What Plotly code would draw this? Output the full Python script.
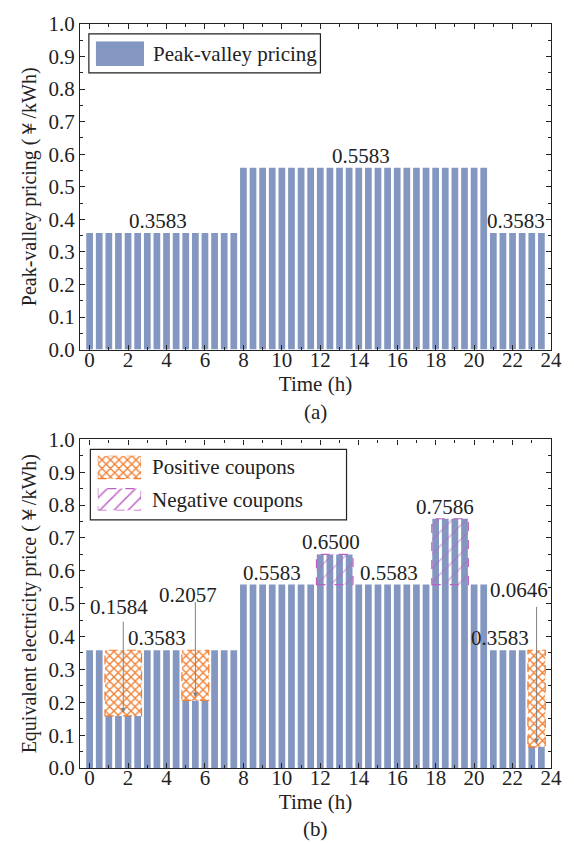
import plotly.graph_objects as go

# ---------------- data ----------------
hours = [0.0, 0.5, 1.0, 1.5, 2.0, 2.5, 3.0, 3.5, 4.0, 4.5, 5.0, 5.5,
         6.0, 6.5, 7.0, 7.5, 8.0, 8.5, 9.0, 9.5, 10.0, 10.5, 11.0, 11.5,
         12.0, 12.5, 13.0, 13.5, 14.0, 14.5, 15.0, 15.5, 16.0, 16.5, 17.0, 17.5,
         18.0, 18.5, 19.0, 19.5, 20.0, 20.5, 21.0, 21.5, 22.0, 22.5, 23.0, 23.5]

pv_price = [0.3583, 0.3583, 0.3583, 0.3583, 0.3583, 0.3583, 0.3583, 0.3583,
            0.3583, 0.3583, 0.3583, 0.3583, 0.3583, 0.3583, 0.3583, 0.3583,
            0.5583, 0.5583, 0.5583, 0.5583, 0.5583, 0.5583, 0.5583, 0.5583,
            0.5583, 0.5583, 0.5583, 0.5583, 0.5583, 0.5583, 0.5583, 0.5583,
            0.5583, 0.5583, 0.5583, 0.5583, 0.5583, 0.5583, 0.5583, 0.5583,
            0.5583, 0.5583, 0.3583, 0.3583, 0.3583, 0.3583, 0.3583, 0.3583]

eq_price = [0.3583, 0.3583, 0.1584, 0.1584, 0.1584, 0.1584, 0.3583, 0.3583,
            0.3583, 0.3583, 0.2057, 0.2057, 0.2057, 0.3583, 0.3583, 0.3583,
            0.5583, 0.5583, 0.5583, 0.5583, 0.5583, 0.5583, 0.5583, 0.5583,
            0.6500, 0.6500, 0.6500, 0.6500, 0.5583, 0.5583, 0.5583, 0.5583,
            0.5583, 0.5583, 0.5583, 0.5583, 0.7586, 0.7586, 0.7586, 0.7586,
            0.5583, 0.5583, 0.3583, 0.3583, 0.3583, 0.3583, 0.0646, 0.0646]

# coupon periods (first and last half-hour slot centres)
pos_start = [1.0, 5.0, 23.0]
pos_end = [2.5, 6.0, 23.5]
pos_low = [0.1584, 0.2057, 0.0646]
pos_high = [0.3583, 0.3583, 0.3583]

neg_start = [12.0, 18.0]
neg_end = [13.5, 19.5]
neg_low = [0.5583, 0.5583]
neg_high = [0.6500, 0.7586]

top_label_text = ["0.3583", "0.5583", "0.3583"]
top_label_val = [0.3583, 0.5583, 0.3583]
bot_label_text = ["0.3583", "0.5583", "0.6500", "0.5583", "0.7586", "0.3583"]
bot_label_val = [0.3583, 0.5583, 0.6500, 0.5583, 0.7586, 0.3583]
callout_text = ["0.1584", "0.2057", "0.0646"]

x_ticks = [0, 2, 4, 6, 8, 10, 12, 14, 16, 18, 20, 22, 24]
y_ticks = [0.0, 0.1, 0.2, 0.3, 0.4, 0.5, 0.6, 0.7, 0.8, 0.9, 1.0]

# ---------------- styling / positions ----------------
FONT = "Liberation Serif"
FS = 21
BLUE = "#8497C0"
ORANGE = "#F07F32"
PURPLE = "#BC5FC4"
AXC = "#222222"
BAR_W = 0.35
HALF = 0.2

top_label_x = [3.55, 14.1, 22.18]
bot_label_x = [3.53, 9.49, 12.57, 15.56, 18.5, 21.37]
callout_x = [1.55, 5.14, 22.36]
callout_y = [0.489, 0.526, 0.541]
arrow_from_y = [0.45, 0.51, 0.495]

# plot area in pixels (for legend placement)
PL, PR, PT, PB = 80, 558, 14, 768
def px(x):
    return (x - PL) / (PR - PL)
def py(y):
    return (PB - y) / (PB - PT)

ORANGE_PAT = dict(shape="x", fgcolor=ORANGE, bgcolor="white", size=6, solidity=0.4,
                  fillmode="replace")
PURPLE_PAT = dict(shape="/", fgcolor=PURPLE, bgcolor="rgba(0,0,0,0)", size=10,
                  solidity=0.15, fillmode="overlay")

fig = go.Figure()

fig.add_trace(go.Bar(x=hours, y=pv_price, width=[BAR_W] * len(hours),
                     marker=dict(color=BLUE, line=dict(width=0)),
                     xaxis="x", yaxis="y", showlegend=False))
fig.add_trace(go.Bar(x=hours, y=eq_price, width=[BAR_W] * len(hours),
                     marker=dict(color=BLUE, line=dict(width=0)),
                     xaxis="x2", yaxis="y2", showlegend=False))

shapes = []
# positive coupons overlay
pos_x0 = [s - HALF for s in pos_start]
pos_x1 = [e + HALF for e in pos_end]
fig.add_trace(go.Bar(
    x=[(a + b) / 2 for a, b in zip(pos_x0, pos_x1)],
    width=[b - a for a, b in zip(pos_x0, pos_x1)],
    base=pos_low, y=[h - l for h, l in zip(pos_high, pos_low)],
    marker=dict(color="white", line=dict(width=0), pattern=ORANGE_PAT),
    xaxis="x2", yaxis="y2", showlegend=False))
for a, b, l, h in zip(pos_x0, pos_x1, pos_low, pos_high):
    shapes.append(dict(type="rect", xref="x2", yref="y2", x0=a, x1=b, y0=l, y1=h,
                       line=dict(color=ORANGE, width=1.2, dash="dash"),
                       fillcolor="rgba(0,0,0,0)", layer="above"))

neg_x0 = [s - HALF for s in neg_start]
neg_x1 = [e + HALF for e in neg_end]
fig.add_trace(go.Bar(
    x=[(a + b) / 2 for a, b in zip(neg_x0, neg_x1)],
    width=[b - a for a, b in zip(neg_x0, neg_x1)],
    base=neg_low, y=[h - l for h, l in zip(neg_high, neg_low)],
    marker=dict(color="rgba(0,0,0,0)", line=dict(width=0), pattern=PURPLE_PAT),
    xaxis="x2", yaxis="y2", showlegend=False))
for a, b, l, h in zip(neg_x0, neg_x1, neg_low, neg_high):
    shapes.append(dict(type="rect", xref="x2", yref="y2", x0=a, x1=b, y0=l, y1=h,
                       line=dict(color=PURPLE, width=1.2, dash="dash"),
                       fillcolor="rgba(0,0,0,0)", layer="above"))

# ---- legend patches on auxiliary axes ----
fig.add_trace(go.Bar(x=[0], y=[1], width=[1], marker=dict(color=BLUE, line=dict(width=0)),
                     xaxis="x3", yaxis="y3", showlegend=False, hoverinfo="skip"))
fig.add_trace(go.Bar(x=[0], base=[0.58], y=[0.42], width=[1],
                     marker=dict(color="white", line=dict(width=0), pattern=ORANGE_PAT),
                     xaxis="x4", yaxis="y4", showlegend=False, hoverinfo="skip"))
fig.add_trace(go.Bar(x=[0], base=[0.0], y=[0.40], width=[1],
                     marker=dict(color="white", line=dict(width=0),
                                 pattern=dict(PURPLE_PAT, bgcolor="white", fillmode="replace")),
                     xaxis="x4", yaxis="y4", showlegend=False, hoverinfo="skip"))
shapes.append(dict(type="rect", xref="x4", yref="y4", x0=-0.5, x1=0.5, y0=0.58, y1=1.0,
                   line=dict(color=ORANGE, width=1.2, dash="dash"), layer="above"))
shapes.append(dict(type="rect", xref="x4", yref="y4", x0=-0.5, x1=0.5, y0=0.0, y1=0.40,
                   line=dict(color=PURPLE, width=1.2, dash="dash"), layer="above"))

# legend boxes
shapes.append(dict(type="rect", xref="paper", yref="paper",
                   x0=px(89), x1=px(324), y0=py(63.5), y1=py(24),
                   line=dict(color=AXC, width=1.2), layer="above"))
shapes.append(dict(type="rect", xref="paper", yref="paper",
                   x0=px(90.5), x1=px(350.5), y0=py(516.5), y1=py(445),
                   line=dict(color=AXC, width=1.2), layer="above"))

annotations = []
tf = dict(family=FONT, size=FS, color=AXC)
ttf = dict(family=FONT, size=20, color=AXC)
for t, x, v in zip(top_label_text, top_label_x, top_label_val):
    annotations.append(dict(x=x, y=v, xref="x", yref="y", text=t, showarrow=False,
                            yshift=12, yanchor="middle", font=tf))
for t, x, v in zip(bot_label_text, bot_label_x, bot_label_val):
    annotations.append(dict(x=x, y=v, xref="x2", yref="y2", text=t, showarrow=False,
                            yshift=12, yanchor="middle", font=tf))
for t, x, y in zip(callout_text, callout_x, callout_y):
    annotations.append(dict(x=x, y=y, xref="x2", yref="y2", text=t, showarrow=False,
                            yanchor="middle", font=tf))
for s, e, low, fy in zip(pos_start, pos_end, pos_low, arrow_from_y):
    xm = (s + e) / 2
    annotations.append(dict(x=xm, y=low, xref="x2", yref="y2", ax=xm, ay=fy,
                            axref="x2", ayref="y2", text="", showarrow=True,
                            arrowhead=2, arrowsize=1, arrowwidth=1, arrowcolor="#808080",
                            standoff=3))
# legend texts
annotations.append(dict(x=px(152), y=py(44), xref="paper", yref="paper",
                        text="Peak-valley pricing", showarrow=False,
                        xanchor="left", yanchor="middle", font=tf))
annotations.append(dict(x=px(151), y=py(463), xref="paper", yref="paper",
                        text="Positive coupons", showarrow=False,
                        xanchor="left", yanchor="middle", font=tf))
annotations.append(dict(x=px(151), y=py(496), xref="paper", yref="paper",
                        text="Negative coupons", showarrow=False,
                        xanchor="left", yanchor="middle", font=tf))
annotations.append(dict(x=0.5, y=py(407), xref="paper", yref="paper", text="(a)",
                        showarrow=False, yanchor="middle", font=tf))
annotations.append(dict(x=0.5, y=py(830), xref="paper", yref="paper", text="(b)",
                        showarrow=False, yanchor="middle", font=tf))

xax = dict(range=[-0.5, 24], tickvals=x_ticks, ticks="inside", ticklen=5, tickwidth=1,
           tickcolor=AXC, showline=True, linecolor=AXC, linewidth=1.2, mirror="allticks",
           showgrid=False, zeroline=False, tickfont=tf, ticklabelstandoff=-9,
           minor=dict(ticks="inside", ticklen=3, dtick=1, tick0=0, tickcolor=AXC, showgrid=False),
           title=dict(text="Time (h)", font=tf, standoff=0))
yax = dict(range=[0, 1], tickvals=y_ticks, tickformat=".1f", ticks="inside", ticklen=5,
           tickwidth=1, tickcolor=AXC, showline=True, linecolor=AXC, linewidth=1.2,
           mirror="allticks", showgrid=False, zeroline=False, tickfont=tf,
           minor=dict(ticks="inside", ticklen=3, dtick=0.05, tick0=0, tickcolor=AXC, showgrid=False))

hidden = dict(visible=False, showgrid=False, zeroline=False, fixedrange=True)

fig.update_layout(
    width=574, height=844,
    margin=dict(l=PL, r=574 - PR, t=PT, b=844 - PB),
    paper_bgcolor="white", plot_bgcolor="white",
    font=dict(family=FONT, size=FS, color=AXC),
    barmode="overlay", showlegend=False,
    xaxis=dict(xax, anchor="y"),
    yaxis=dict(yax, domain=[py(344), 1.0], anchor="x",
               title=dict(text="Peak-valley pricing (￥/kWh)", font=ttf, standoff=6)),
    xaxis2=dict(xax, anchor="y2"),
    yaxis2=dict(yax, domain=[0.0, py(435)], anchor="x2",
                title=dict(text="Equivalent electricity price (￥/kWh)", font=ttf, standoff=6)),
    xaxis3=dict(hidden, domain=[px(96), px(145)], range=[-0.5, 0.5], anchor="y3"),
    yaxis3=dict(hidden, domain=[py(56.5), py(31.5)], range=[0, 1], anchor="x3"),
    xaxis4=dict(hidden, domain=[px(98), px(142)], range=[-0.5, 0.5], anchor="y4"),
    yaxis4=dict(hidden, domain=[py(507), py(451.5)], range=[0, 1], anchor="x4"),
    shapes=shapes, annotations=annotations,
)

fig.write_html("out.html")
